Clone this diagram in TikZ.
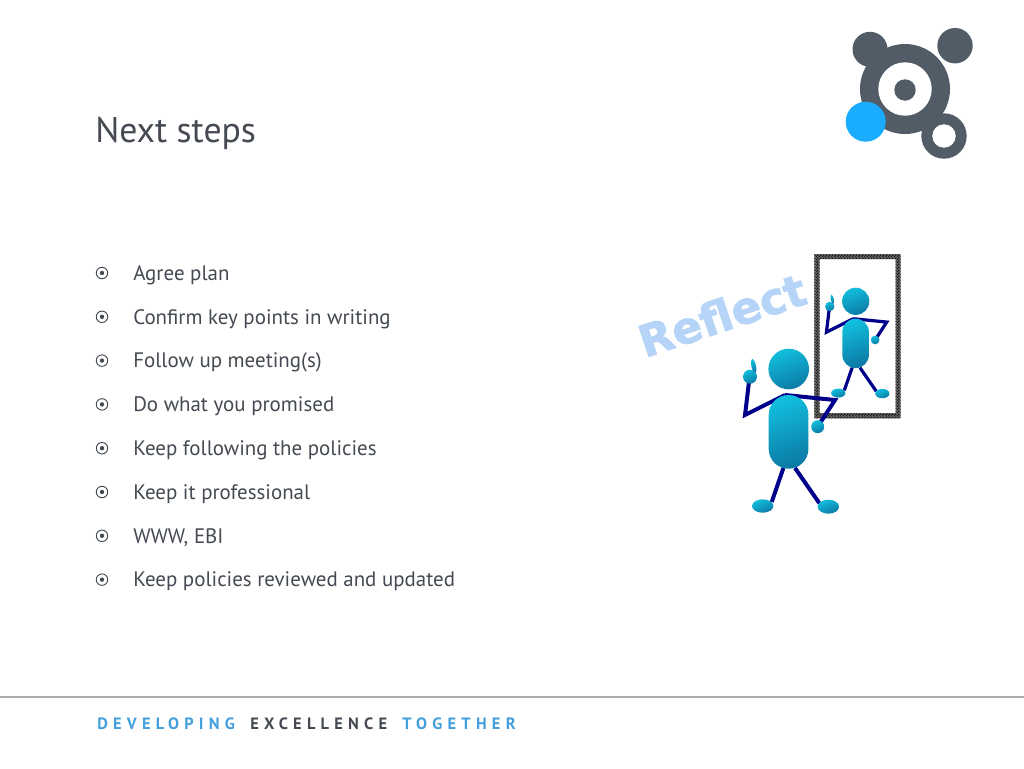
\documentclass[tikz,border=0pt]{standalone}
\usepackage{fontspec}
\usepackage{xcolor}
\setmainfont{PT Sans}
\newfontfamily\reflectfont{DejaVu Sans}[BoldFeatures={FakeBold=1.6}]
\newfontfamily\taglinefont{PT Sans}[LetterSpace=32]
\usetikzlibrary{patterns}
\pgfdeclarepatternformonly{finecheck}{\pgfpointorigin}{\pgfqpoint{2pt}{2pt}}{\pgfqpoint{2pt}{2pt}}{
	\pgfpathrectangle{\pgfpointorigin}{\pgfqpoint{1pt}{1pt}}
	\pgfpathrectangle{\pgfqpoint{1pt}{1pt}}{\pgfqpoint{1pt}{1pt}}
	\pgfusepath{fill}
}
\definecolor{slategrey}{HTML}{515C67}
\definecolor{logoblue}{HTML}{1AADFF}
\definecolor{titlegrey}{HTML}{454A52}
\definecolor{tagblue}{HTML}{449FDD}
\definecolor{limbblue}{HTML}{00008B}
\definecolor{reflectblue}{HTML}{B5D4F7}
\definecolor{bluetop}{HTML}{12BEDD}
\definecolor{bluemid}{HTML}{0A9CC4}
\definecolor{bluelow}{HTML}{0B7BA6}
\tikzset{
	bodytext/.style={anchor=west, text=titlegrey, font=\fontsize{15.7}{18}\selectfont},
	tagline/.style={anchor=west, inner sep=0pt, font=\taglinefont\bfseries\fontsize{12.3}{14}\selectfont},
	bullet/.style={draw=titlegrey, line width=0.7pt, circle, inner sep=0pt, minimum size=8.6pt},
	limb/.style={draw=limbblue, line join=miter},
	blob/.style={top color=bluetop, middle color=bluemid, bottom color=bluelow, shading angle=20}
}
% one figure, head centre at (#1,#2), size #3
\newcommand{\stickman}[3]{
	\begin{scope}[shift={(#1,#2)}, scale=#3]
		\draw[limb, line width=#3*1.8pt+1.2pt] (-3.7,26) -- (-43.7,46) -- (-39,7);
		\draw[limb, line width=#3*1.8pt+1.2pt] (-3.7,26) -- (46.3,31) -- (29,57.7);
		\draw[limb, line width=#3*1.8pt+1.2pt] (-5.3,99) -- (-17,133);
		\draw[limb, line width=#3*1.8pt+1.2pt] (6.3,99) -- (30.7,134.3);
		\shade[blob] (0,0) circle (20.3);
		\shade[blob, rounded corners=#3*14.8pt] (-20,26) rectangle (19.7,99.7);
		\shade[blob] (-38.7,7.7) circle (7);
		\shade[blob, rotate around={12:(-35,-3)}] (-35,-3) ellipse (2.3 and 7);
		\shade[blob] (29,57.7) circle (6.5);
		\shade[blob] (-26,137) ellipse (10.7 and 6.7);
		\shade[blob] (39.7,137.7) ellipse (10.7 and 7);
	\end{scope}
}
\begin{document}
\begin{tikzpicture}[x=0.75pt,y=-0.75pt]
	\useasboundingbox (0,0) rectangle (1024,768);
	\fill[white] (0,0) rectangle (1024,768);

	% draw logo
	\fill[slategrey] (905,89) circle (45);
	\fill[white] (905,89) circle (26.7);
	\fill[slategrey] (905,90) circle (10.7);
	\fill[slategrey] (870,49.3) circle (17.5);
	\fill[slategrey] (955,45.7) circle (17.7);
	\fill[slategrey] (944,136) circle (22.7);
	\fill[white] (944,136) circle (11.7);
	\fill[logoblue] (865.7,121.7) circle (20);

	% draw title
	\node[anchor=west, text=titlegrey, inner sep=0pt, font=\fontsize{26.8}{30}\selectfont] (title) at (95,133) {Next steps};

	% draw list
	\foreach \i/\txt in {0/Agree plan, 1/Confirm key points in writing, 2/Follow up meeting(s),
		3/Do what you promised, 4/Keep following the policies, 5/Keep it professional,
		6/{WWW, EBI}, 7/Keep policies reviewed and updated} {
		\node[bullet] (bullet\i) at (102,273+43.8*\i) {};
		\fill[titlegrey] (bullet\i.center) circle (2.2);
		\node[bodytext, inner sep=0pt] (item\i) at (133,275+43.8*\i) {\txt};
	}

	% draw mirror
	\fill[black!62, even odd rule] (814.3,254) rectangle (900.7,418.3) (819.5,259) rectangle (895.5,413);
	\path[pattern=finecheck, pattern color=black!90, even odd rule] (814.3,254) rectangle (900.7,418.3) (819.5,259) rectangle (895.5,413);

	% draw figures
	\stickman{855.7}{301.3}{0.67}
	\stickman{788.7}{369}{1}

	% draw word
	\node[rotate=18.5, text=reflectblue, font=\reflectfont\bfseries\fontsize{33}{35}\selectfont] (reflect) at (722,315) {Reflect};

	% draw footer
	\draw[draw=black!32, line width=1.4pt] (0,697) -- (1024,697);
	\node[tagline, text=tagblue] (developing) at (97,724) {DEVELOPING};
	\node[tagline, text=titlegrey] (excellence) at (250,724) {EXCELLENCE};
	\node[tagline, text=tagblue] (together) at (402,724) {TOGETHER};
\end{tikzpicture}
\end{document}
